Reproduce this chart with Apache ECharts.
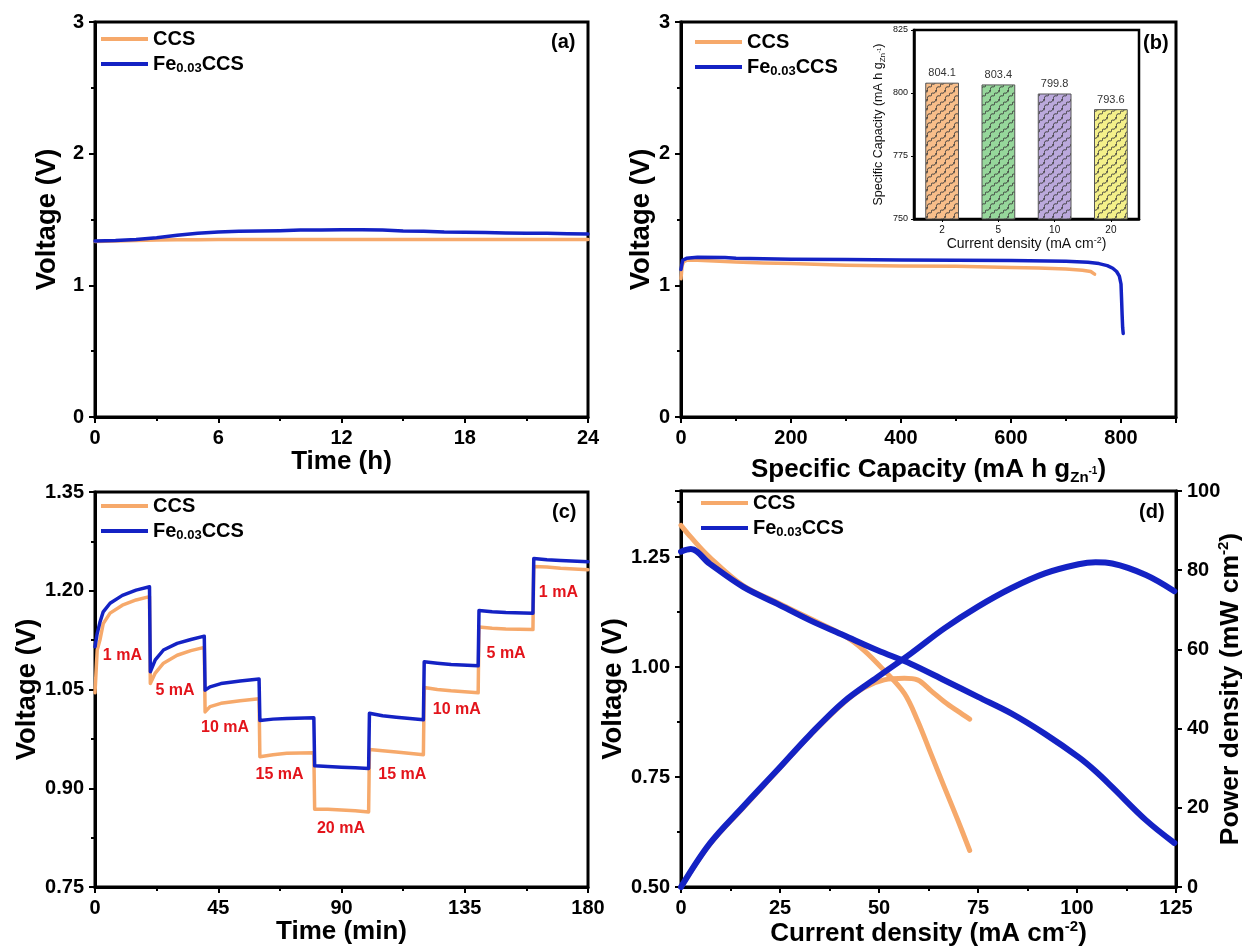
<!DOCTYPE html>
<html><head><meta charset="utf-8">
<script src="https://cdn.jsdelivr.net/npm/echarts@6.0.0/dist/echarts.min.js"></script>
<style>html,body{margin:0;padding:0;background:#fff}#c{width:1242px;height:949px}</style>
</head><body><div id="c"></div>
<script>
// ---------- DATA ----------
const seriesNames = ['CCS', 'Fe0.03CCS'];

// (a) voltage vs time (h)
const timeA = [0,1,2,3,4,5,6,7,8,9,10,11,12,13,14,15,16,17,18,19,20,21,22,23,24];
const ccsA  = [1.333,1.336,1.340,1.344,1.346,1.347,1.348,1.348,1.348,1.348,1.348,1.348,1.348,1.348,1.348,1.348,1.348,1.348,1.348,1.348,1.348,1.348,1.348,1.348,1.348];
const feA   = [1.336,1.340,1.348,1.362,1.380,1.395,1.405,1.410,1.413,1.415,1.420,1.421,1.422,1.422,1.420,1.413,1.410,1.405,1.404,1.402,1.398,1.395,1.396,1.392,1.390];

// (b) voltage vs specific capacity
const capB_ccs = [0,2,5,10,30,60,100,150,200,300,400,500,600,650,700,730,745,752];
const vB_ccs   = [1.05,1.15,1.18,1.19,1.19,1.185,1.177,1.170,1.165,1.152,1.147,1.144,1.136,1.131,1.124,1.115,1.105,1.085];
const capB_fe  = [0,3,10,30,80,100,200,300,400,500,600,700,740,760,775,785,792,797,800,801,802,803,804];
const vB_fe    = [1.12,1.19,1.205,1.213,1.212,1.205,1.199,1.196,1.193,1.190,1.188,1.182,1.175,1.165,1.150,1.130,1.105,1.070,1.010,0.90,0.78,0.68,0.635];

// (b) inset: specific capacity vs current density
const insetCats = ['2','5','10','20'];
const insetVals = [804.1, 803.4, 799.8, 793.6];

// (c) rate performance
const timeC = [0,0.8,1.8,3,5.5,10,15,19.9,20.2,22,25,30,35,39.9,40.2,42,46,53,59.9,60.2,65,70,79.9,80.2,85,90,95,99.9,100.2,105,110,119.9,120.2,125,130,139.9,140.2,145,150,159.9,160.2,165,170,180];
const feC  = [1.115,1.135,1.152,1.168,1.181,1.193,1.201,1.206,1.077,1.095,1.110,1.120,1.126,1.131,1.049,1.054,1.059,1.063,1.066,1.003,1.005,1.006,1.007,0.934,0.933,0.932,0.931,0.930,1.014,1.010,1.008,1.004,1.092,1.090,1.088,1.086,1.170,1.168,1.167,1.166,1.249,1.247,1.246,1.244];
const ccsC = [1.045,1.110,1.125,1.150,1.166,1.178,1.186,1.191,1.059,1.075,1.090,1.102,1.109,1.114,1.016,1.024,1.029,1.033,1.036,0.948,0.951,0.953,0.954,0.868,0.868,0.867,0.866,0.864,0.959,0.957,0.955,0.951,1.053,1.050,1.048,1.045,1.145,1.143,1.142,1.141,1.237,1.236,1.234,1.232];
const labelC_text = ['1 mA','5 mA','10 mA','15 mA','20 mA','15 mA','10 mA','5 mA','1 mA'];
const labelC_time = [10.0, 29.2, 47.5, 67.4, 89.8, 112.2, 132.1, 150.1, 169.2];
const labelC_volt = [1.101, 1.049, 0.992, 0.921, 0.838, 0.921, 1.019, 1.105, 1.197];

// (d) polarization (V) & power density (P)
const jDv_fe = [0,2.5,7.2,15.7,24.2,32.6,41.1,49.6,58.1,66.5,75,83.5,91.9,100.4,104.7,108.9,117.4,124.6];
const vD_fe  = [1.262,1.268,1.235,1.182,1.144,1.106,1.072,1.038,1.007,0.970,0.932,0.894,0.848,0.795,0.763,0.727,0.652,0.600];
const jDp_fe = [0,7.2,15.7,24.2,32.6,41.1,49.6,58.1,66.5,75,83.5,91.9,100.4,104.7,108.9,117.4,124.6];
const pD_fe  = [0,10.9,20.3,29.4,38.5,46.8,53.0,59.0,65.3,70.8,75.5,79.2,81.5,82.0,81.7,78.8,74.7];
const jDv_ccs = [0,2.5,7.2,15.7,24.2,32.6,41.1,46.2,51.3,56.4,59.7,63.1,66.5,69.9,72.9];
const vD_ccs  = [1.322,1.295,1.250,1.185,1.147,1.110,1.072,1.038,0.992,0.940,0.879,0.803,0.727,0.652,0.583];
const jDp_ccs = [0,7.2,15.7,24.2,32.6,41.1,46.2,51.3,56.4,59.7,63.1,66.5,69.9,72.9];
const pD_ccs  = [0,10.7,20.0,29.2,38.3,46.5,50.3,52.3,52.7,52.3,49.6,46.8,44.4,42.4];

// ---------- STYLE ----------
const FONT = '"Liberation Sans", Arial, sans-serif';
const ORANGE = '#F6A96B';
const BLUE = '#1422C4';
const zip = (xs, ys) => xs.map((x, i) => [x, ys[i]]);

function hatch(bg) {
  const c = document.createElement('canvas');
  c.width = 9; c.height = 9;
  const g = c.getContext('2d');
  g.fillStyle = bg; g.fillRect(0, 0, 9, 9);
  g.strokeStyle = '#3b3b3b'; g.lineWidth = 1;
  g.beginPath();
  g.moveTo(0, 9); g.bezierCurveTo(1, 3, 5, 8, 4.5, 4.5); g.bezierCurveTo(4, 1, 8, 6, 9, 0);
  g.stroke();
  g.beginPath(); g.moveTo(-4.5, 4.5); g.bezierCurveTo(-4, 1, 0, 6, 0.5, 0); g.stroke();
  g.beginPath(); g.moveTo(4.5, 13.5); g.bezierCurveTo(5, 10, 9, 13, 9.5, 9); g.stroke();
  return c;
}
const insetColors = ['#F8BE8A', '#96D79B', '#BBA9DC', '#F4F08A'];

function richTitle(fs) {
  return {
    n: {fontFamily: FONT, fontSize: fs, fontWeight: 'bold', color: '#000', lineHeight: 30, verticalAlign: 'middle'},
    s: {fontFamily: FONT, fontSize: 15, fontWeight: 'bold', color: '#000', lineHeight: 30, verticalAlign: 'bottom'},
    ss: {fontFamily: FONT, fontSize: 10, fontWeight: 'bold', color: '#000', lineHeight: 30, verticalAlign: 'bottom', padding: [0,0,9,0]},
    sup: {fontFamily: FONT, fontSize: 15, fontWeight: 'bold', color: '#000', lineHeight: 30, verticalAlign: 'top'}
  };
}

function valAxis(grid, o, fs) {
  fs = fs || 26;
  const base = {
    type: 'value', gridIndex: grid, scale: false,
    axisLine: {show: true, onZero: false, lineStyle: {color: '#000', width: 3}},
    axisTick: {show: true, inside: false, length: 6, lineStyle: {color: '#000', width: 2}},
    minorTick: {show: true, splitNumber: 2, length: 4, lineStyle: {color: '#000', width: 2}},
    splitLine: {show: false}, minorSplitLine: {show: false},
    axisLabel: {color: '#000', fontFamily: FONT, fontSize: 20, fontWeight: 'bold', margin: 11, showMinLabel: true, showMaxLabel: true},
    nameLocation: 'middle',
    nameTextStyle: {color: '#000', fontFamily: FONT, fontSize: fs, fontWeight: 'bold', rich: richTitle(fs)}
  };
  const r = Object.assign(base, o);
  if (o.fmt) { r.axisLabel = Object.assign({}, base.axisLabel, {formatter: o.fmt}); delete r.fmt; }
  return r;
}
const onGrid = (step, dec) => v => (Math.abs(v / step - Math.round(v / step)) < 1e-6 ? v.toFixed(dec) : '');

function mkLegend(left, top) {
  return {
    left: left, top: top, orient: 'vertical', itemWidth: 47, itemHeight: 4, itemGap: 5,
    icon: 'rect', selectedMode: false, data: seriesNames, padding: 0,
    formatter: n => n === 'CCS' ? '{t|CCS}' : '{t|Fe}{s|0.03}{t|CCS}',
    textStyle: {color: '#000', fontFamily: FONT, fontSize: 20, fontWeight: 'bold',
      rich: {
        t: {fontFamily: FONT, fontSize: 20, fontWeight: 'bold', color: '#000', lineHeight: 22, verticalAlign: 'middle'},
        s: {fontFamily: FONT, fontSize: 13, fontWeight: 'bold', color: '#000', lineHeight: 22, verticalAlign: 'bottom'}
      }}
  };
}
function panelLabel(text, left, top) {
  return {text: text, left: left, top: top, padding: 0,
    textStyle: {fontFamily: FONT, fontSize: 20, fontWeight: 'bold', color: '#000'}};
}
const gridBox = (l, t, w, h) => ({left: l, top: t, width: w, height: h, show: true, borderColor: '#000', borderWidth: 3, backgroundColor: 'transparent', containLabel: false, outerBoundsMode: 'none'});

function line(name, data, xi, yi, color, width, smooth) {
  return {type: 'line', name: name, data: data, xAxisIndex: xi, yAxisIndex: yi, symbol: 'none', showSymbol: false,
    smooth: smooth || false, clip: true, silent: true, animation: false,
    lineStyle: {color: color, width: width, cap: 'round', join: 'round'}, itemStyle: {color: color}};
}

const chart = echarts.init(document.getElementById('c'), null, {renderer: 'canvas'});
const option = {
  animation: false,
  backgroundColor: '#fff',
  title: [panelLabel('(a)', 551, 32), panelLabel('(b)', 1143, 33), panelLabel('(c)', 552, 502), panelLabel('(d)', 1139, 502)],
  legend: [mkLegend(101, 29), mkLegend(695, 32), mkLegend(101, 496), mkLegend(701, 493)],
  grid: [
    gridBox(95, 22, 493, 395),
    gridBox(681, 22, 495, 395),
    gridBox(95, 492, 493, 395),
    gridBox(681, 491, 495, 396),
    Object.assign(gridBox(914, 30, 225, 189), {backgroundColor: '#fff', borderWidth: 2.5})
  ],
  xAxis: [
    valAxis(0, {min: 0, max: 24, interval: 6, name: 'Time (h)', nameGap: 29}),
    valAxis(1, {min: 0, max: 900, interval: 200, nameGap: 38, fmt: onGrid(200, 0),
      name: '{n|Specific Capacity (mA h g}{s|Zn}{ss|-1}{n|)}'}),
    valAxis(2, {min: 0, max: 180, interval: 45, name: 'Time (min)', nameGap: 31}),
    valAxis(3, {min: 0, max: 125, interval: 25, nameGap: 29,
      name: '{n|Current density (mA cm}{sup|-2}{n|)}'}),
    {type: 'category', gridIndex: 4, data: insetCats,
      axisLine: {show: true, lineStyle: {color: '#000', width: 2.5}},
      axisTick: {show: true, alignWithLabel: true, length: 3, lineStyle: {color: '#000', width: 1}},
      axisLabel: {color: '#111', fontFamily: FONT, fontSize: 10, margin: 6},
      name: '{n|Current density (mA cm}{sup|-2}{n|)}', nameLocation: 'middle', nameGap: 15,
      nameTextStyle: {color: '#111', fontFamily: FONT, fontSize: 14,
        rich: {n: {fontFamily: FONT, fontSize: 14, color: '#111', lineHeight: 16, verticalAlign: 'middle'},
               sup: {fontFamily: FONT, fontSize: 9, color: '#111', lineHeight: 16, verticalAlign: 'top'}}}}
  ],
  yAxis: [
    valAxis(0, {min: 0, max: 3, interval: 1, name: 'Voltage (V)', nameGap: 34}, 27.5),
    valAxis(1, {min: 0, max: 3, interval: 1, name: 'Voltage (V)', nameGap: 26}, 27.5),
    valAxis(2, {min: 0.75, max: 1.35, interval: 0.15, name: 'Voltage (V)', nameGap: 51, fmt: v => v.toFixed(2)}, 27.5),
    valAxis(3, {min: 0.5, max: 1.4, interval: 0.25, name: 'Voltage (V)', nameGap: 52, fmt: onGrid(0.25, 2)}, 27.5),
    valAxis(3, {min: 0, max: 100, interval: 20, position: 'right', name: '{n|Power density (mW cm}{sup|-2}{n|)}',
      nameGap: 40, nameMoveOverlap: false,
      minorTick: {show: false}}, 26.5),
    {type: 'value', gridIndex: 4, min: 750, max: 825, interval: 25,
      axisLine: {show: true, lineStyle: {color: '#000', width: 2.5}},
      axisTick: {show: true, length: 3, lineStyle: {color: '#000', width: 1}},
      splitLine: {show: false},
      axisLabel: {color: '#111', fontFamily: FONT, fontSize: 9, margin: 6, showMinLabel: true, showMaxLabel: true},
      name: '{n|Specific Capacity (mA h g}{s|Zn}{ss|-1}{n|)}', nameLocation: 'middle', nameGap: 27,
      nameTextStyle: {color: '#111', fontFamily: FONT, fontSize: 12.5,
        rich: {n: {fontFamily: FONT, fontSize: 12.5, color: '#111', lineHeight: 16, verticalAlign: 'middle'},
               s: {fontFamily: FONT, fontSize: 8, color: '#111', lineHeight: 16, verticalAlign: 'bottom'},
               ss: {fontFamily: FONT, fontSize: 6, color: '#111', lineHeight: 16, verticalAlign: 'bottom', padding: [0,0,5,0]}}}}
  ],
  series: [
    line('CCS', zip(timeA, ccsA), 0, 0, ORANGE, 3.5),
    line('Fe0.03CCS', zip(timeA, feA), 0, 0, BLUE, 3.5),
    line('CCS', zip(capB_ccs, vB_ccs), 1, 1, ORANGE, 3.5),
    line('Fe0.03CCS', zip(capB_fe, vB_fe), 1, 1, BLUE, 3.5),
    line('CCS', zip(timeC, ccsC), 2, 2, ORANGE, 3.5),
    line('Fe0.03CCS', zip(timeC, feC), 2, 2, BLUE, 3.5),
    {type: 'scatter', name: 'rateLabels', xAxisIndex: 2, yAxisIndex: 2, symbol: 'circle', symbolSize: 2, silent: true,
      itemStyle: {color: 'rgba(255,255,255,0)'}, z: 5,
      data: labelC_time.map((t, i) => [t, labelC_volt[i], labelC_text[i]]),
      label: {show: true, position: 'inside', formatter: p => p.data[2], color: '#E3141B',
        textBorderWidth: 0, textBorderColor: 'transparent', opacity: 1,
        fontFamily: FONT, fontSize: 16, fontWeight: 'bold'},
      labelLayout: {hideOverlap: false}},
    line('CCS', zip(jDv_ccs, vD_ccs), 3, 3, ORANGE, 5, 0.35),
    line('CCS', zip(jDp_ccs, pD_ccs), 3, 4, ORANGE, 5, 0.35),
    line('Fe0.03CCS', zip(jDv_fe, vD_fe), 3, 3, BLUE, 6, 0.35),
    line('Fe0.03CCS', zip(jDp_fe, pD_fe), 3, 4, BLUE, 6, 0.35),
    {type: 'bar', name: 'inset', xAxisIndex: 4, yAxisIndex: 5, barWidth: '60%', silent: true,
      data: insetVals.map((v, i) => ({value: v, itemStyle: {color: {image: hatch(insetColors[i]), repeat: 'repeat'}, borderColor: '#555', borderWidth: 1}})),
      label: {show: true, position: 'top', distance: 4, color: '#333', fontFamily: FONT, fontSize: 11,
        formatter: p => p.value.toFixed(1)}}
  ]
};
chart.setOption(option);
</script></body></html>
